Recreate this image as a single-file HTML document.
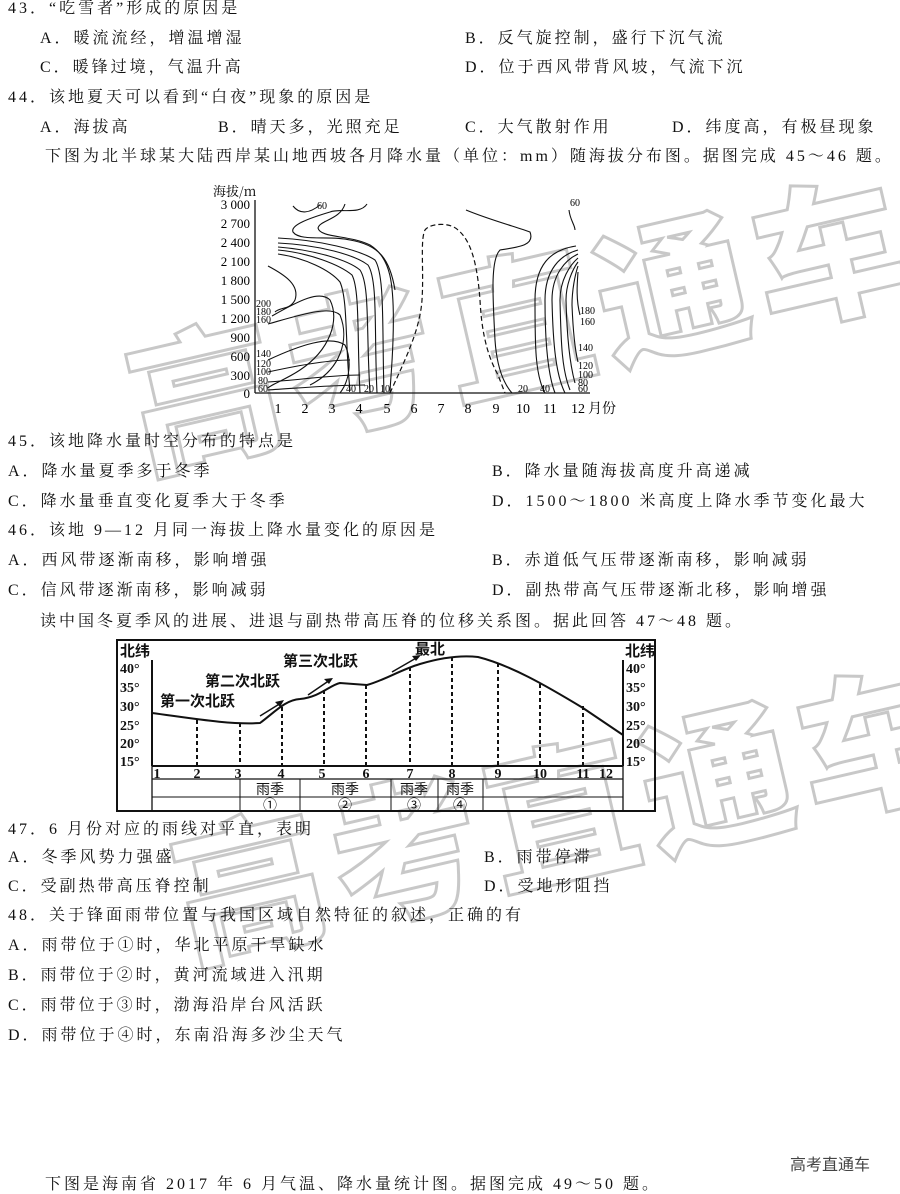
<!DOCTYPE html>
<html><head><meta charset="utf-8"><style>
body{margin:0;width:900px;height:1192px;background:#fff;position:relative;overflow:hidden;font-family:"Liberation Serif","Noto Serif CJK SC","Noto Sans CJK SC",serif;color:#111;}
.t{position:absolute;font-size:16px;letter-spacing:3px;white-space:nowrap;line-height:18px;}
.wm{position:absolute;font-family:"Noto Sans CJK SC",sans-serif;font-weight:900;font-size:150px;color:transparent;-webkit-text-stroke:3px #c8c8c8;white-space:nowrap;transform:rotate(-13deg);transform-origin:left top;letter-spacing:10px;}
svg{position:absolute;left:0;top:0}
</style></head><body>
<div class="wm" style="left:105px;top:300px;">高考直通车</div>
<div class="wm" style="left:150px;top:790px;">高考直通车</div>

<div class="t" style="left:8px;top:0px">43．“吃雪者”形成的原因是</div>
<div class="t" style="left:40px;top:30px">A．暖流流经，增温增湿</div>
<div class="t" style="left:465px;top:30px">B．反气旋控制，盛行下沉气流</div>
<div class="t" style="left:40px;top:59px">C．暖锋过境，气温升高</div>
<div class="t" style="left:465px;top:59px">D．位于西风带背风坡，气流下沉</div>
<div class="t" style="left:8px;top:89px">44．该地夏天可以看到“白夜”现象的原因是</div>
<div class="t" style="left:40px;top:119px">A．海拔高</div>
<div class="t" style="left:218px;top:119px">B．晴天多，光照充足</div>
<div class="t" style="left:465px;top:119px">C．大气散射作用</div>
<div class="t" style="left:672px;top:119px">D．纬度高，有极昼现象</div>
<div class="t" style="left:45px;top:148px">下图为北半球某大陆西岸某山地西坡各月降水量（单位：mm）随海拔分布图。据图完成 45～46 题。</div>

<div class="t" style="left:8px;top:433px">45．该地降水量时空分布的特点是</div>
<div class="t" style="left:8px;top:463px">A．降水量夏季多于冬季</div>
<div class="t" style="left:492px;top:463px">B．降水量随海拔高度升高递减</div>
<div class="t" style="left:8px;top:493px">C．降水量垂直变化夏季大于冬季</div>
<div class="t" style="left:492px;top:493px">D．1500～1800 米高度上降水季节变化最大</div>
<div class="t" style="left:8px;top:522px">46．该地 9—12 月同一海拔上降水量变化的原因是</div>
<div class="t" style="left:8px;top:552px">A．西风带逐渐南移，影响增强</div>
<div class="t" style="left:492px;top:552px">B．赤道低气压带逐渐南移，影响减弱</div>
<div class="t" style="left:8px;top:582px">C．信风带逐渐南移，影响减弱</div>
<div class="t" style="left:492px;top:582px">D．副热带高气压带逐渐北移，影响增强</div>
<div class="t" style="left:40px;top:613px">读中国冬夏季风的进展、进退与副热带高压脊的位移关系图。据此回答 47～48 题。</div>

<div class="t" style="left:8px;top:821px">47．6 月份对应的雨线对平直，表明</div>
<div class="t" style="left:8px;top:849px">A．冬季风势力强盛</div>
<div class="t" style="left:484px;top:849px">B．雨带停滞</div>
<div class="t" style="left:8px;top:878px">C．受副热带高压脊控制</div>
<div class="t" style="left:484px;top:878px">D．受地形阻挡</div>
<div class="t" style="left:8px;top:907px">48．关于锋面雨带位置与我国区域自然特征的叙述，正确的有</div>
<div class="t" style="left:8px;top:937px">A．雨带位于①时，华北平原干旱缺水</div>
<div class="t" style="left:8px;top:967px">B．雨带位于②时，黄河流域进入汛期</div>
<div class="t" style="left:8px;top:997px">C．雨带位于③时，渤海沿岸台风活跃</div>
<div class="t" style="left:8px;top:1027px">D．雨带位于④时，东南沿海多沙尘天气</div>
<div class="t" style="left:790px;top:1154px;font-family:'Noto Sans CJK SC',sans-serif;font-size:16px;letter-spacing:0;color:#444">高考直通车</div>
<div class="t" style="left:45px;top:1176px">下图是海南省 2017 年 6 月气温、降水量统计图。据图完成 49～50 题。</div>

<svg width="900" height="1192" font-family="Liberation Serif" font-size="11">
<g stroke="#111" fill="none" stroke-width="1.3">
<line x1="255" y1="200" x2="255" y2="393"/>
<line x1="255" y1="393" x2="590" y2="393"/>
</g>
<text x="213" y="196" font-family="Noto Serif CJK SC" font-size="13">海拔/m</text>
<g text-anchor="end" font-size="13">
<text x="250" y="209">3 000</text><text x="250" y="228">2 700</text><text x="250" y="247">2 400</text>
<text x="250" y="266">2 100</text><text x="250" y="285">1 800</text><text x="250" y="304">1 500</text>
<text x="250" y="323">1 200</text><text x="250" y="342">900</text><text x="250" y="361">600</text>
<text x="250" y="380">300</text><text x="250" y="398">0</text>
</g>
<g font-size="14" text-anchor="middle">
<text x="278" y="413">1</text><text x="305" y="413">2</text><text x="332" y="413">3</text><text x="359" y="413">4</text><text x="387" y="413">5</text><text x="414" y="413">6</text><text x="441" y="413">7</text><text x="468" y="413">8</text><text x="496" y="413">9</text><text x="523" y="413">10</text><text x="550" y="413">11</text><text x="578" y="413">12</text>
<text x="602" y="413" font-family="Noto Serif CJK SC">月份</text>
</g>
<g stroke="#111" fill="none" stroke-width="1.1">
<path d="M293,206 C300,215 310,213 320,205"/>
<path d="M367,204 C360,215 340,208 330,212 C310,218 290,225 293,232 C300,242 330,235 350,240 C380,245 390,260 395,290"/>
<path d="M345,204 C340,220 320,220 318,228 C320,238 350,235 370,245 C390,258 395,280 393,340 C392,370 390,385 390,393"/>
<path d="M278,238 C320,240 360,250 375,260 C385,275 382,330 384,393"/>
<path d="M278,243 C320,245 355,255 368,265 C378,280 374,330 377,393"/>
<path d="M278,247 C315,250 348,260 360,270 C370,285 366,330 370,393"/>
<path d="M278,250 C310,253 340,265 352,275 C360,290 357,340 360,393"/>
<path d="M278,254 C305,258 330,270 340,282 C348,300 345,345 350,390"/>
<path d="M268,266 C285,275 300,285 295,300 C290,310 280,307 275,312"/>
<path d="M272,316 C300,300 320,290 330,300 C340,320 330,350 300,370 C285,380 270,385 268,388"/>
<path d="M268,324 C300,315 330,305 340,315 C350,340 340,370 310,385"/>
<path d="M268,360 C300,345 330,335 345,345 C352,360 350,380 340,393"/>
<path d="M268,372 C300,365 330,360 350,360"/>
<path d="M268,382 C300,380 330,375 360,375"/>
<path d="M268,390 C300,388 330,385 365,385"/>
</g>
<path d="M390,393 C405,360 420,330 422,300 C424,270 420,240 425,230 C430,223 450,222 458,230 C470,240 477,260 480,300 C482,340 490,360 498,375 L505,393" stroke="#111" fill="none" stroke-width="1.2" stroke-dasharray="5,3"/>
<g stroke="#111" fill="none" stroke-width="1.1">
<path d="M466,210 C490,220 520,228 530,232 C535,245 520,247 500,250 C490,260 493,300 495,340 C497,370 505,385 512,393"/>
<path d="M576,246 C550,250 535,265 535,300 C535,345 535,375 545,393"/>
<path d="M578,250 C560,255 545,270 545,300 C545,345 548,375 555,393"/>
<path d="M578,254 C565,260 552,275 552,300 C553,345 556,375 565,393"/>
<path d="M578,258 C570,265 560,280 560,300 C561,345 562,370 570,390"/>
<path d="M578,262 C572,270 566,285 566,300 C567,340 570,365 575,383"/>
<path d="M578,266 C575,275 572,290 572,305 C573,330 575,350 578,362"/>
<path d="M578,272 C577,285 576,300 580,315"/>
<path d="M569,210 C570,220 575,225 575,230"/>
</g>
<g font-size="10">
<text x="317" y="209">60</text><text x="570" y="206">60</text>
<text x="256" y="307">200</text><text x="256" y="315">180</text><text x="256" y="323">160</text>
<text x="256" y="357">140</text><text x="256" y="367">120</text><text x="256" y="375">100</text><text x="258" y="384">80</text><text x="258" y="392">60</text>
<text x="346" y="392">40</text><text x="364" y="392">20</text><text x="380" y="392">10</text>
<text x="518" y="392">20</text><text x="540" y="392">40</text><text x="578" y="392">60</text><text x="578" y="386">80</text>
<text x="578" y="378">100</text><text x="578" y="369">120</text><text x="578" y="351">140</text><text x="580" y="325">160</text><text x="580" y="314">180</text>
</g>

<g stroke="#111" fill="none">
<rect x="117" y="640" width="538" height="171" stroke-width="2"/>
<line x1="152" y1="660" x2="152" y2="766" stroke-width="2"/>
<line x1="623" y1="660" x2="623" y2="766" stroke-width="2"/>
<line x1="152" y1="766" x2="623" y2="766" stroke-width="2"/>
<line x1="152" y1="779" x2="623" y2="779" stroke-width="1.3"/>
<line x1="152" y1="797" x2="623" y2="797" stroke-width="1"/>
<line x1="152" y1="766" x2="152" y2="811" stroke-width="1.3"/>
<line x1="623" y1="766" x2="623" y2="811" stroke-width="1.3"/>
<line x1="240" y1="779" x2="240" y2="811"/><line x1="300" y1="779" x2="300" y2="811"/>
<line x1="391" y1="779" x2="391" y2="811"/><line x1="438" y1="779" x2="438" y2="811"/>
<line x1="483" y1="779" x2="483" y2="811"/>
<path d="M152,713 C190,718 230,725 260,723 C275,712 285,700 300,699 C320,697 330,685 340,683 L367,685 C385,680 400,670 420,664 C440,658 460,655 478,657 C510,665 545,685 583,708 L623,735" stroke-width="2"/>
<g stroke-width="2" stroke-dasharray="4,3">
<line x1="197" y1="720" x2="197" y2="766"/><line x1="240" y1="723" x2="240" y2="766"/>
<line x1="282" y1="707" x2="282" y2="766"/><line x1="324" y1="690" x2="324" y2="766"/>
<line x1="366" y1="685" x2="366" y2="766"/><line x1="410" y1="667" x2="410" y2="766"/>
<line x1="452" y1="657" x2="452" y2="766"/><line x1="498" y1="663" x2="498" y2="766"/>
<line x1="540" y1="684" x2="540" y2="766"/><line x1="583" y1="706" x2="583" y2="766"/>
</g>
<g stroke-width="1.5">
<path d="M260,716 L281,703"/><path d="M308,695 L330,680"/><path d="M392,672 L418,657"/>
</g>
</g>
<g fill="#111"><path d="M284,700 L275,702 L280,707Z"/><path d="M333,678 L324,679 L329,684Z"/><path d="M421,655 L412,656 L416,661Z"/></g>
<g font-family="Noto Sans CJK SC" font-weight="bold" font-size="15" fill="#111">
<text x="120" y="656">北纬</text><text x="625" y="656">北纬</text>
<text x="415" y="654">最北</text>
<text x="283" y="666">第三次北跃</text>
<text x="205" y="686">第二次北跃</text>
<text x="160" y="706">第一次北跃</text>
</g>
<g font-family="Liberation Serif" font-weight="bold" font-size="14" fill="#111">
<text x="120" y="673">40°</text><text x="120" y="692">35°</text><text x="120" y="711">30°</text><text x="120" y="730">25°</text><text x="120" y="748">20°</text><text x="120" y="766">15°</text>
<text x="626" y="673">40°</text><text x="626" y="692">35°</text><text x="626" y="711">30°</text><text x="626" y="730">25°</text><text x="626" y="748">20°</text><text x="626" y="766">15°</text>
</g>
<g font-size="14" font-weight="bold" text-anchor="middle" fill="#111">
<text x="157" y="778">1</text><text x="197" y="778">2</text><text x="238" y="778">3</text><text x="281" y="778">4</text><text x="322" y="778">5</text><text x="366" y="778">6</text><text x="410" y="778">7</text><text x="452" y="778">8</text><text x="498" y="778">9</text><text x="540" y="778">10</text><text x="583" y="778">11</text><text x="606" y="778">12</text>
</g>
<g font-family="Noto Sans CJK SC" font-size="14" fill="#111" text-anchor="middle">
<text x="270" y="794">雨季</text><text x="345" y="794">雨季</text><text x="414" y="794">雨季</text><text x="460" y="794">雨季</text>
<text x="270" y="810">①</text><text x="345" y="810">②</text><text x="414" y="810">③</text><text x="460" y="810">④</text>
</g>
</svg>
</body></html>
